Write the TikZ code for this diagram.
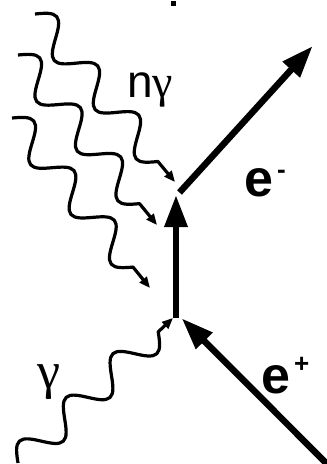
\documentclass[tikz,border=0pt]{standalone}
\usepackage{fontspec}
\setmainfont{Liberation Sans}
\newfontfamily\grk{Liberation Serif}
\usetikzlibrary{arrows.meta,decorations}
\pgfdeclaredecoration{sinewave}{initial}{
  \state{initial}[width=\pgfdecorationsegmentlength,
                  switch if less than=\pgfdecorationsegmentlength to final]{
    \pgfpathcurveto
      {\pgfqpoint{0.08153\pgfdecorationsegmentlength}{0.51229\pgfdecorationsegmentamplitude}}
      {\pgfqpoint{0.15952\pgfdecorationsegmentlength}{\pgfdecorationsegmentamplitude}}
      {\pgfqpoint{0.25\pgfdecorationsegmentlength}{\pgfdecorationsegmentamplitude}}
    \pgfpathcurveto
      {\pgfqpoint{0.34048\pgfdecorationsegmentlength}{\pgfdecorationsegmentamplitude}}
      {\pgfqpoint{0.41847\pgfdecorationsegmentlength}{0.51229\pgfdecorationsegmentamplitude}}
      {\pgfqpoint{0.5\pgfdecorationsegmentlength}{0pt}}
    \pgfpathcurveto
      {\pgfqpoint{0.58153\pgfdecorationsegmentlength}{-0.51229\pgfdecorationsegmentamplitude}}
      {\pgfqpoint{0.65952\pgfdecorationsegmentlength}{-\pgfdecorationsegmentamplitude}}
      {\pgfqpoint{0.75\pgfdecorationsegmentlength}{-\pgfdecorationsegmentamplitude}}
    \pgfpathcurveto
      {\pgfqpoint{0.84048\pgfdecorationsegmentlength}{-\pgfdecorationsegmentamplitude}}
      {\pgfqpoint{0.91847\pgfdecorationsegmentlength}{-0.51229\pgfdecorationsegmentamplitude}}
      {\pgfqpoint{\pgfdecorationsegmentlength}{0pt}}
  }
  \state{final}{\pgfpathlineto{\pgfpointdecoratedpathlast}}
}
\begin{document}
\begin{tikzpicture}[x=1pt,y=-1pt,
  fermion/.style={line width=6.5pt, -{Triangle[length=32pt,width=22pt]}},
  photon/.style={line width=3.2pt, line join=round, -{Triangle[length=11pt,width=9pt]},
    decorate, decoration={sinewave, amplitude=15pt, segment length=64pt, post length=22pt}},
  lbl/.style={inner sep=0pt, anchor=base west}]
\useasboundingbox (0,0) rectangle (327,464);
\clip (0,0) rectangle (327,464);
% vertices and free ends
\coordinate (vb) at (176,318);
\coordinate (vt) at (176,195);
\coordinate (emS) at (179.5,192.5);
\coordinate (emE) at (312.7,46);
\coordinate (epS) at (335,472);
\coordinate (epE) at (181.7,318.3);
% fermion lines
\draw[fermion] (vb) -- (vt);
\draw[fermion] (emS) -- (emE);
\draw[fermion] (epS) -- (epE);
% photons
\coordinate (a0) at (35,14);   \coordinate (a1) at (175,182);
\coordinate (b0) at (18,55);   \coordinate (b1) at (157,225);
\coordinate (c0) at (12,118);  \coordinate (c1) at (150,288);
\coordinate (d0) at (18,463);  \coordinate (d1) at (173,318);
\draw[photon] (a0) -- (a1);
\draw[photon] (b0) -- (b1);
\draw[photon] (c0) -- (c1);
\draw[photon, decoration={post length=18pt}] (d0) -- (d1);
% labels
\node[lbl, font=\fontsize{46}{46}\selectfont] (ng) at (127,97) {n{\grk γ}};
\node[lbl, font=\fontsize{52}{52}\selectfont\bfseries] (em) at (244,196)
  {e\kern4pt\raisebox{17.6pt}{\fontsize{26}{26}\selectfont -}};
\node[lbl, font=\fontsize{52}{52}\selectfont\bfseries] (ep) at (261,393)
  {e\kern4pt\raisebox{20.6pt}{\fontsize{26}{26}\selectfont +}};
\node[lbl, font=\fontsize{52}{52}\selectfont\grk] (g) at (37,388) {γ};
% small dot at the top
\node[fill, inner sep=0pt, minimum size=5.3pt] (dot) at (173.3,3.5) {};
\end{tikzpicture}
\end{document}
